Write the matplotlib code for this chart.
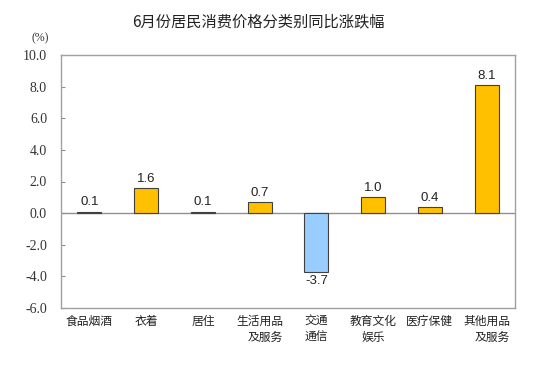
import numpy as np
import matplotlib.pyplot as plt

plt.rcParams['font.family'] = ['Noto Sans CJK SC', 'DejaVu Sans']

categories = ['食品烟酒', '衣着', '居住', '生活用品\n及服务', '交通\n通信', '教育文化\n娱乐', '医疗保健', '其他用品\n及服务']
values = [0.1, 1.6, 0.1, 0.7, -3.7, 1.0, 0.4, 8.1]
yticks = [-6.0, -4.0, -2.0, 0.0, 2.0, 4.0, 6.0, 8.0, 10.0]

fig = plt.figure(figsize=(5.47, 3.67), dpi=100)
ax = fig.add_axes([61 / 547, 1 - 308 / 367, 454 / 547, 253 / 367])

x = np.arange(len(values))
colors = ['#FFC000' if v >= 0 else '#99CCFF' for v in values]
ax.bar(x, values, width=0.42, color=colors, edgecolor='#404040', linewidth=0.8, zorder=3)
ax.axhline(0, color='#909090', linewidth=1.0, zorder=2)

for xi, v in zip(x, values):
    if v >= 0:
        ax.text(xi, v + 0.2, f'{v:.1f}', ha='center', va='bottom', fontsize=9.5,
                family=['Liberation Sans'], color='#222222')
    else:
        ax.text(xi, v - 0.2, f'{v:.1f}', ha='center', va='top', fontsize=9.5,
                family=['Liberation Sans'], color='#222222')

ax.set_xlim(-0.5, len(values) - 0.5)
ax.set_ylim(-6, 10)
ax.set_yticks(yticks)
ax.set_yticklabels([f'{t:.1f}' for t in yticks], family=['Liberation Serif'], fontsize=10, color='#333333')
ax.set_xticks(x)
ax.set_xticklabels(categories, fontsize=8.5, color='#222222', linespacing=1.3)
for lbl, txt in zip(ax.get_xticklabels(), categories):
    if txt in ('生活用品\n及服务', '其他用品\n及服务'):
        lbl.set_multialignment('right')
ax.tick_params(axis='x', length=0, pad=5)
ax.tick_params(axis='y', direction='in', length=3, color='#909090', pad=10)
for s in ax.spines.values():
    s.set_color('#A0A0A0')
    s.set_linewidth(1.0)

fig.text(258 / 547, 1 - 22 / 367, '6月份居民消费价格分类别同比涨跌幅', ha='center', va='center', fontsize=11, color='#222222')
fig.text(40 / 547, 1 - 38 / 367, '(%)', ha='center', va='center', fontsize=8.5,
         family=['Liberation Serif'], color='#333333')

fig.savefig('out.png', dpi=100)
